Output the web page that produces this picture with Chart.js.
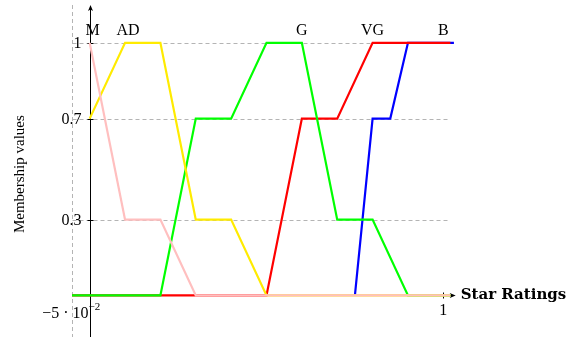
<!DOCTYPE html>
<html>
<head>
<meta charset="utf-8">
<script src="https://cdn.jsdelivr.net/npm/chart.js@4"></script>
<style>
  html, body { margin: 0; padding: 0; background: #fff; }
  #wrap { width: 571px; height: 337px; }
</style>
</head>
<body>
<div id="wrap"><canvas id="chart"></canvas></div>
<script>
// membership functions, one x/y list per rating
const names = ['M', 'AD', 'G', 'VG', 'B'];
const nameX = [0, 0.1, 0.6, 0.8, 1];

const xM = [0, 0.1, 0.2, 0.3, 1.02];
const yM = [1, 0.3, 0.3, 0, 0];
const xAD = [0, 0.1, 0.2, 0.3, 0.4, 0.5, 1.02];
const yAD = [0.7, 1, 1, 0.3, 0.3, 0, 0];
const xG = [-0.05, 0.2, 0.3, 0.4, 0.5, 0.6, 0.7, 0.8, 0.9, 1.02];
const yG = [0, 0, 0.7, 0.7, 1, 1, 0.3, 0.3, 0, 0];
const xVG = [-0.05, 0.5, 0.6, 0.7, 0.8, 1.02];
const yVG = [0, 0, 0.7, 0.7, 1, 1];
const xB = [0.75, 0.8, 0.85, 0.9, 1.03];
const yB = [0, 0.7, 0.7, 1, 1];

const yTicks = [1, 0.7, 0.3];
const yTickLabels = ['1', '0.7', '0.3'];
const xTicks = [1];
const xTickLabels = ['1'];

const serif = '"Liberation Serif", "Times New Roman", Times, serif';

function pts(xs, ys) { return xs.map((v, i) => ({ x: v, y: ys[i] })) }

function mk(label, xs, ys, color) {
  return {
    label: label, data: pts(xs, ys), borderColor: color, backgroundColor: color,
    borderWidth: 2.2, pointRadius: 0, showLine: true, tension: 0, fill: false
  }
}

function seg(ctx, x1, y1, x2, y2) {
  ctx.beginPath(); ctx.moveTo(x1, y1); ctx.lineTo(x2, y2); ctx.stroke();
}

const axesPlugin = {
  id: 'axes',
  beforeDatasetsDraw(chart) {
    const { ctx, chartArea: a, scales: { x, y } } = chart;
    const left = Math.round(x.getPixelForValue(-0.05)) + 0.5;
    const x0 = Math.round(x.getPixelForValue(0)) + 0.5;
    const y0 = Math.round(y.getPixelForValue(0)) + 0.5;
    ctx.save();
    // dashed grid
    ctx.strokeStyle = '#b4b4b4';
    ctx.lineWidth = 1;
    ctx.setLineDash([4, 3]);
    yTicks.forEach(v => {
      const py = Math.round(y.getPixelForValue(v)) + 0.5;
      seg(ctx, left, py, x.getPixelForValue(1.02), py);
    });
    seg(ctx, left, a.top, left, a.bottom);
    ctx.setLineDash([]);

    // axis lines with arrows
    ctx.strokeStyle = '#000';
    ctx.fillStyle = '#000';
    const xEnd = x.getPixelForValue(1.035);
    seg(ctx, x0, a.bottom, x0, a.top + 3);
    seg(ctx, left, y0, xEnd - 3, y0);
    ctx.beginPath();
    ctx.moveTo(x0, a.top); ctx.lineTo(x0 - 2.5, a.top + 6); ctx.lineTo(x0, a.top + 4.5); ctx.lineTo(x0 + 2.5, a.top + 6);
    ctx.closePath(); ctx.fill();
    ctx.beginPath();
    ctx.moveTo(xEnd, y0); ctx.lineTo(xEnd - 6, y0 - 2.5); ctx.lineTo(xEnd - 4.5, y0); ctx.lineTo(xEnd - 6, y0 + 2.5);
    ctx.closePath(); ctx.fill();

    // ticks
    yTicks.forEach(v => {
      const py = Math.round(y.getPixelForValue(v)) + 0.5;
      seg(ctx, x0 - 3, py, x0 + 3, py);
    });
    xTicks.forEach(v => {
      const px = Math.round(x.getPixelForValue(v)) + 0.5;
      seg(ctx, px, y0 - 3, px, y0 + 3);
    });

    // tick labels
    ctx.font = '16px ' + serif;
    ctx.textAlign = 'right';
    ctx.textBaseline = 'middle';
    yTicks.forEach((v, i) => ctx.fillText(yTickLabels[i], x0 - 9, y.getPixelForValue(v) + 1));
    const yLow = y.getPixelForValue(-0.05);
    ctx.fillText('\u22125 \u00b7 10', x0 - 2, yLow + 6);
    ctx.font = '11px ' + serif;
    ctx.textAlign = 'left';
    ctx.fillText('\u22122', x0 - 2, yLow - 1);
    ctx.font = '16px ' + serif;
    ctx.textAlign = 'center';
    xTicks.forEach((v, i) => ctx.fillText(xTickLabels[i], x.getPixelForValue(v), y0 + 15));
    ctx.restore();
  },
  afterDatasetsDraw(chart) {
    const { ctx, chartArea: a, scales: { x, y } } = chart;
    ctx.save();
    ctx.fillStyle = '#000';
    ctx.font = '16px ' + serif;
    ctx.textAlign = 'center';
    ctx.textBaseline = 'middle';
    names.forEach((n, i) => {
      const dx = i < 2 ? 3 : 0;
      ctx.fillText(n, x.getPixelForValue(nameX[i]) + dx, y.getPixelForValue(1) - 12);
    });
    // axis titles
    ctx.save();
    ctx.font = '15px ' + serif;
    ctx.translate(20, y.getPixelForValue(0.5) + 5);
    ctx.rotate(-Math.PI / 2);
    ctx.fillText('Membership values', 0, 0);
    ctx.restore();
    ctx.font = 'bold 15px "DejaVu Serif", serif';
    ctx.textAlign = 'left';
    ctx.fillText('Star Ratings', x.getPixelForValue(1.035) + 5, y.getPixelForValue(0));
    ctx.restore();
  }
};

new Chart(document.getElementById('chart'), {
  type: 'scatter',
  data: {
    datasets: [
      mk('M', xM, yM, '#ffbfbf'),
      mk('AD', xAD, yAD, '#ffeb00'),
      mk('G', xG, yG, '#00ff00'),
      mk('VG', xVG, yVG, '#ff0000'),
      mk('B', xB, yB, '#0000ff')
    ]
  },
  options: {
    responsive: true,
    maintainAspectRatio: false,
    animation: false,
    layout: { padding: { left: 72, right: 110, top: 5, bottom: 0 } },
    plugins: { legend: { display: false }, tooltip: { enabled: false } },
    scales: {
      x: { type: 'linear', min: -0.05, max: 1.05, display: false },
      y: { type: 'linear', min: -0.165, max: 1.15, display: false }
    }
  },
  plugins: [axesPlugin]
});
</script>
</body>
</html>
